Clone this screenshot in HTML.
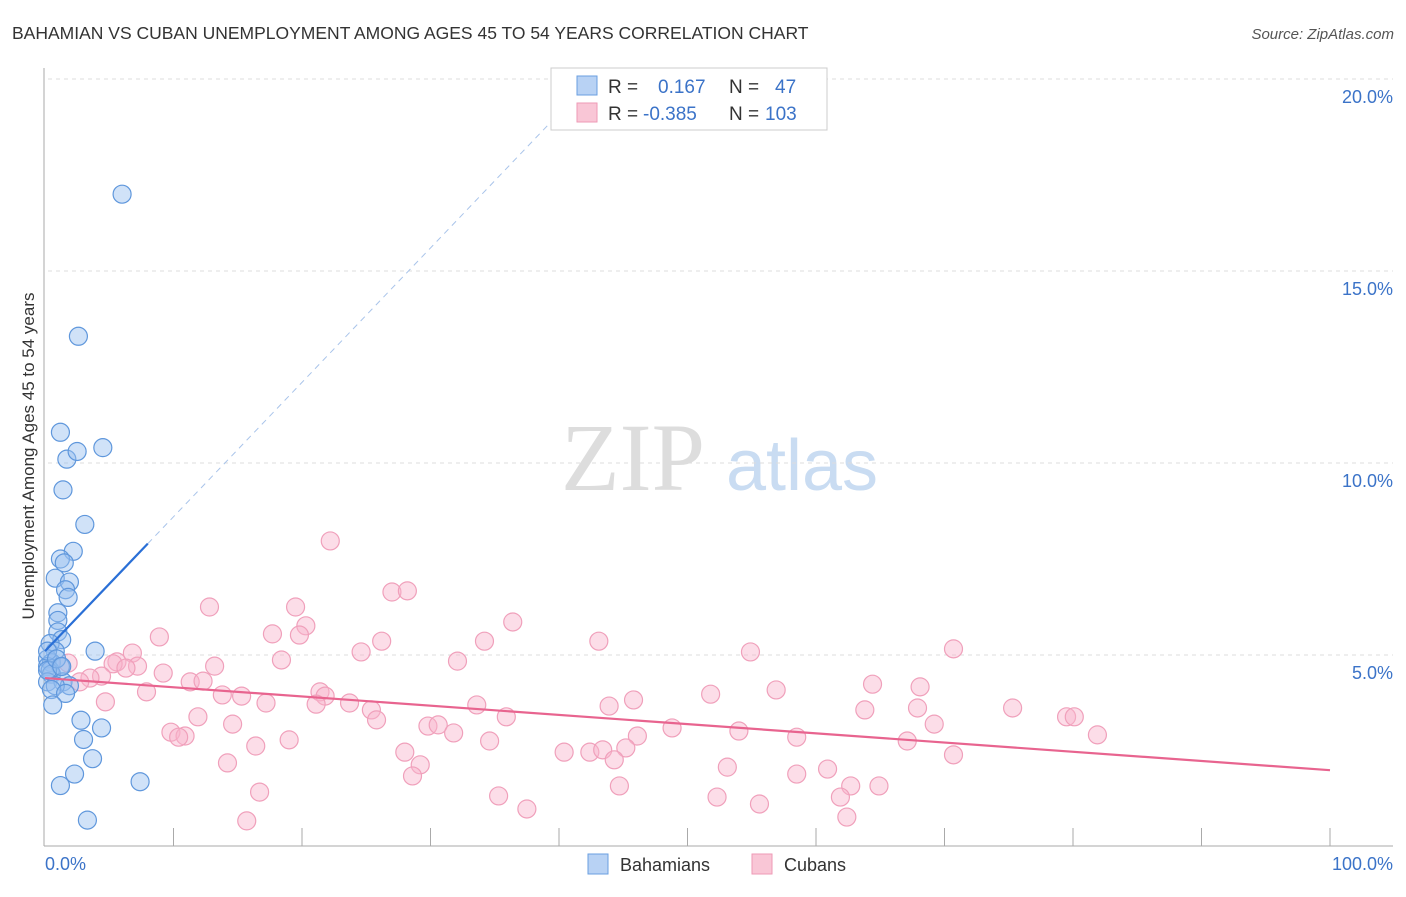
<!DOCTYPE html>
<html><head><meta charset="utf-8"><style>
body{margin:0;background:#fff;font-family:"Liberation Sans",sans-serif}
svg text{font-family:"Liberation Sans",sans-serif}
</style></head><body>
<svg id="c" width="1406" height="892" xmlns="http://www.w3.org/2000/svg">
<text x="12" y="39" font-size="17.5" fill="#333">BAHAMIAN VS CUBAN UNEMPLOYMENT AMONG AGES 45 TO 54 YEARS CORRELATION CHART</text>
<text x="1394" y="39" font-size="15" fill="#555" font-style="italic" text-anchor="end">Source: ZipAtlas.com</text>
<g>
<text x="633" y="490" font-size="96" fill="#ddd" text-anchor="middle" font-family="Liberation Serif" style="font-family:'Liberation Serif',serif">ZIP</text>
<text x="802" y="490" font-size="72" fill="#c9dcf2" text-anchor="middle">atlas</text>
</g>
<g id="grid"></g>
<g id="axes"></g>
<g id="pts"></g>
<g id="trend"></g>
<text transform="translate(34,456) rotate(-90)" font-size="17" fill="#333" text-anchor="middle">Unemployment Among Ages 45 to 54 years</text>
<g>
<rect x="551" y="68" width="276" height="62" fill="#fff" stroke="#ccc"/>
<rect x="577" y="76" width="20" height="19" fill="#b8d2f4" stroke="#6a9fe0"/>
<rect x="577" y="103" width="20" height="19" fill="#f9c6d6" stroke="#ee9ab6"/>
<text x="608" y="93" font-size="19" fill="#333">R =</text>
<text x="658" y="93" font-size="19" fill="#3b73c8">0.167</text>
<text x="729" y="93" font-size="19" fill="#333">N =</text>
<text x="775" y="93" font-size="19" fill="#3b73c8">47</text>
<text x="608" y="120" font-size="19" fill="#333">R =</text>
<text x="643" y="120" font-size="19" fill="#3b73c8">-0.385</text>
<text x="729" y="120" font-size="19" fill="#333">N =</text>
<text x="765" y="120" font-size="19" fill="#3b73c8">103</text>
</g>
<g>
<rect x="588" y="854" width="20" height="20" fill="#b8d2f4" stroke="#6a9fe0"/>
<text x="620" y="871" font-size="18" fill="#333">Bahamians</text>
<rect x="752" y="854" width="20" height="20" fill="#f9c6d6" stroke="#ee9ab6"/>
<text x="784" y="871" font-size="18" fill="#333">Cubans</text>
</g>
</svg>
<script>
const yTicks=[5,10,15,20];
const xTickLabels=["0.0%","100.0%"];
const blueX=[6.0,2.6,1.2,1.7,2.5,4.5,1.4,3.1,2.2,1.2,1.5,0.8,1.9,1.6,1.8,1.0,1.0,1.0,1.3,0.4,3.9,0.8,0.2,0.5,1.2,0.2,0.4,0.5,0.2,1.4,1.9,0.8,0.5,1.6,0.6,2.8,4.4,3.0,3.7,2.3,7.4,1.2,3.3,0.2,0.2,0.9,1.3];
const blueY=[17.0,13.3,10.8,10.1,10.3,10.4,9.3,8.4,7.7,7.5,7.4,7.0,6.9,6.7,6.5,6.1,5.9,5.6,5.4,5.3,5.1,5.1,4.9,4.8,4.7,4.7,4.6,4.5,4.3,4.3,4.2,4.2,4.1,4.0,3.7,3.3,3.1,2.8,2.3,1.9,1.7,1.6,0.7,5.1,4.6,4.9,4.7];
const pinkX=[22.2,27.0,28.2,12.8,19.5,36.4,20.3,8.9,17.7,19.8,26.2,34.2,43.1,70.7,6.8,24.6,54.9,5.6,18.4,32.1,1.8,7.2,5.3,6.3,13.2,9.2,4.4,3.5,2.7,11.3,12.3,64.4,68.1,21.4,7.9,13.8,15.3,51.8,56.9,45.8,21.8,4.7,17.2,21.1,23.7,43.9,33.6,63.8,67.9,75.3,25.4,11.9,35.9,79.5,80.1,25.8,14.6,29.8,30.6,48.8,69.2,9.8,10.9,10.4,54.0,31.8,46.1,34.6,58.5,81.9,67.1,16.4,19.0,28.0,40.4,42.4,43.4,45.2,44.3,14.2,29.2,70.7,53.1,28.6,58.5,60.9,62.7,64.9,44.7,16.7,35.3,52.3,61.9,37.5,55.6,15.7,62.4];
const pinkY=[7.97,6.64,6.67,6.25,6.25,5.86,5.76,5.47,5.55,5.52,5.36,5.36,5.36,5.16,5.05,5.08,5.08,4.82,4.87,4.84,4.79,4.71,4.77,4.66,4.71,4.53,4.45,4.40,4.30,4.30,4.32,4.24,4.17,4.04,4.04,3.96,3.93,3.98,4.09,3.83,3.93,3.78,3.75,3.72,3.75,3.67,3.70,3.57,3.62,3.62,3.57,3.39,3.39,3.39,3.39,3.31,3.20,3.15,3.18,3.10,3.20,2.99,2.89,2.86,3.02,2.97,2.89,2.76,2.86,2.92,2.76,2.63,2.79,2.47,2.47,2.47,2.53,2.58,2.27,2.19,2.14,2.40,2.08,1.85,1.90,2.03,1.59,1.59,1.59,1.43,1.33,1.30,1.30,0.99,1.12,0.68,0.78];
const blueTrend=[5.1,0.35]; // intercept, slope
const pinkTrend=[4.4,-0.024];
const NS="http://www.w3.org/2000/svg";
const X0=45,X1=1330,Y0=847,PY=38.4;
const sx=v=>X0+(X1-X0)*v/100;
const sy=v=>Y0-PY*v;
function mk(t,a,p){const e=document.createElementNS(NS,t);for(const k in a)e.setAttribute(k,a[k]);p.appendChild(e);return e;}
const grid=document.getElementById('grid'),axes=document.getElementById('axes'),pts=document.getElementById('pts'),tr=document.getElementById('trend');
yTicks.forEach(v=>{
 const l=mk('line',{x1:48,x2:1393,y1:sy(v),y2:sy(v),stroke:'#ddd','stroke-dasharray':'4,4'},grid);
 
 
 const t=mk('text',{x:1393,y:sy(v)+24,'font-size':18,fill:'#3b73c8','text-anchor':'end'},axes);
 t.textContent=v.toFixed(1)+'%';
 
 
});
const ax=mk('line',{x1:44,x2:44,y1:68,y2:846,stroke:'#aaa'},axes);


const bx=mk('line',{x1:44,x2:1393,y1:846,y2:846,stroke:'#aaa'},axes);


for(let i=1;i<=10;i++){
 const tk=mk('line',{x1:sx(i*10),x2:sx(i*10),y1:828,y2:846,stroke:'#aaa'},axes);
 
 
}
const xl0=mk('text',{x:45,y:870,'font-size':18,fill:'#3b73c8'},axes);xl0.textContent=xTickLabels[0];


const xl1=mk('text',{x:1393,y:870,'font-size':18,fill:'#3b73c8','text-anchor':'end'},axes);xl1.textContent=xTickLabels[1];


pinkX.forEach((x,i)=>{
 const c=mk('circle',{cx:sx(x),cy:sy(pinkY[i]),r:9,fill:'rgba(248,180,204,0.45)',stroke:'#f0a0bb','stroke-width':1.2},pts);
 
 
});
blueX.forEach((x,i)=>{
 const c=mk('circle',{cx:sx(x),cy:sy(blueY[i]),r:9,fill:'rgba(150,190,240,0.45)',stroke:'#5f97dc','stroke-width':1.2},pts);
 
 
});
const bxEnd=(20-blueTrend[0])/blueTrend[1];
const bd=mk('line',{x1:sx(8),y1:sy(blueTrend[0]+blueTrend[1]*8),x2:sx(bxEnd),y2:sy(20),stroke:'#a9c4ea','stroke-dasharray':'6,5','stroke-width':1},tr);


const bs=mk('line',{x1:sx(0),y1:sy(blueTrend[0]),x2:sx(8),y2:sy(blueTrend[0]+blueTrend[1]*8),stroke:'#2a6fd6','stroke-width':2.2},tr);


const ps=mk('line',{x1:sx(0),y1:sy(pinkTrend[0]),x2:sx(100),y2:sy(pinkTrend[0]+pinkTrend[1]*100),stroke:'#e8648f','stroke-width':2.2},tr);


</script>
</body></html>
